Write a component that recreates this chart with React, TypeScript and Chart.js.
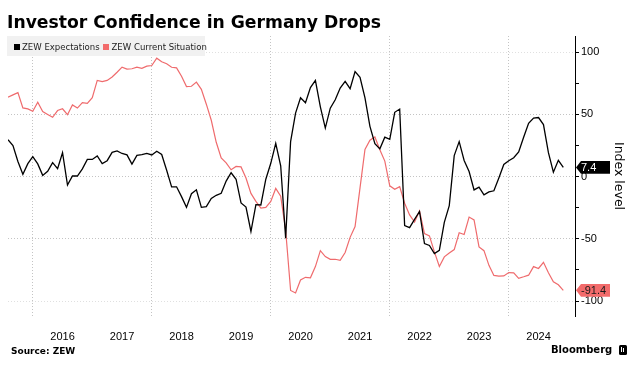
import React, { useEffect, useRef } from 'react';
import { Chart, registerables } from 'chart.js';

Chart.register(...registerables);

// Monthly observations, July 2015 .. November 2024 (plotted at month end)
const months: string[] = [];
for (let y = 2015; y <= 2024; y++) {
  for (let m = 1; m <= 12; m++) {
    if ((y === 2015 && m < 7) || (y === 2024 && m > 11)) continue;
    months.push(`${y}-${String(m).padStart(2, '0')}`);
  }
}

const zewExpectations = [
  29.7, 25.0, 12.1, 1.9, 10.4, 16.1,
  10.2, 1.0, 4.3, 11.2, 6.4, 19.2, -6.8, 0.5, 0.5, 6.2, 13.8, 13.8,
  16.6, 10.4, 12.8, 19.5, 20.6, 18.6, 17.5, 10.0, 17.0, 17.6, 18.7, 17.4,
  20.4, 17.8, 5.1, -8.2, -8.2, -16.1, -24.7, -13.7, -10.6, -24.7, -24.1, -17.5,
  -15.0, -13.4, -3.6, 3.1, -2.1, -21.1, -24.5, -44.1, -22.5, -22.8, -2.1, 10.7,
  26.7, 8.7, -49.5, 28.2, 51.0, 63.4, 59.3, 71.5, 77.4, 56.1, 39.0, 55.0,
  61.8, 71.2, 76.6, 70.7, 84.4, 79.8, 63.3, 40.4, 26.5, 22.3, 31.7, 29.9,
  51.7, 54.3, -39.3, -41.0, -34.3, -28.0, -53.8, -55.3, -61.9, -59.2, -36.7, -23.3,
  16.9, 28.1, 13.0, 4.1, -10.7, -8.5, -14.7, -12.3, -11.4, -1.1, 9.8, 12.8,
  15.2, 19.9, 31.7, 42.9, 47.1, 47.5, 41.8, 19.2, 3.6, 13.1, 7.4,
];

const zewCurrentSituation = [
  63.9, 65.7, 67.5, 55.2, 54.4, 52.5,
  59.7, 52.3, 50.0, 47.7, 53.1, 54.5, 49.8, 57.6, 55.1, 59.5, 58.8, 63.5,
  77.3, 76.4, 77.3, 80.1, 83.9, 88.0, 86.4, 86.7, 87.9, 87.0, 88.8, 89.3,
  95.2, 92.3, 90.7, 87.9, 87.4, 80.6, 72.4, 72.6, 76.0, 70.1, 58.2, 45.3,
  27.6, 15.0, 11.1, 5.5, 8.2, 7.8, -1.1, -13.5, -19.9, -25.3, -24.7, -19.9,
  -9.5, -15.7, -43.1, -91.5, -93.5, -83.1, -80.9, -81.3, -72.3, -59.5, -64.3, -66.5,
  -66.4, -67.2, -61.0, -48.8, -40.1, -9.1, 21.9, 29.3, 31.9, 21.6, 12.5, -7.4,
  -10.2, -8.1, -21.4, -30.8, -36.5, -27.6, -45.8, -47.6, -60.5, -72.2, -64.5, -61.4,
  -58.6, -45.1, -46.5, -32.5, -34.8, -56.5, -59.5, -71.3, -79.4, -79.9, -79.8, -77.1,
  -77.3, -81.7, -80.5, -79.2, -72.3, -73.8, -68.9, -77.3, -84.5, -86.9, -91.4,
];

const yearLabels = ['2016', '2017', '2018', '2019', '2020', '2021', '2022', '2023', '2024'];
const gridYears = [2016, 2018, 2020, 2022, 2024];
const yMajorTicks = [-100, -50, 0, 50, 100];
const yMinorTicks = [-75, -25, 25, 75];

const BASE_YEAR = 2015;
const monthPos = (label: string) => {
  const [y, m] = label.split('-').map(Number);
  return (y - BASE_YEAR) * 12 + m; // end of month
};
const yearStart = (y: number) => (y - BASE_YEAR) * 12;
const yearMid = (y: number) => (y - BASE_YEAR) * 12 + 6;

const X_MIN = 7;
const X_MAX = 121.36;
const Y_MIN = -112;
const Y_MAX = 113;

const RED = '#ef6b6d';
const RED_TAG = '#f26b6b';
const GRID = '#c4c4c4';
const GRID_FAINT = '#e0e0e0';
const FONT = "'Liberation Sans', Arial, sans-serif";

const tagPlugin = {
  id: 'lastValueTags',
  afterDraw(chart: any) {
    const ctx = chart.ctx as CanvasRenderingContext2D;
    const ys = chart.scales.y;
    const x0 = chart.chartArea.right;
    const items: [number[], string, string][] = [
      [zewExpectations, '#000000', '#ffffff'],
      [zewCurrentSituation, RED_TAG, '#1a1a1a'],
    ];
    ctx.save();
    items.forEach(([arr, bg, fg]) => {
      const v = arr[arr.length - 1];
      const cy = ys.getPixelForValue(v);
      const h = 6.3;
      ctx.beginPath();
      ctx.moveTo(x0 + 1, cy);
      ctx.lineTo(x0 + 6, cy - h);
      ctx.lineTo(x0 + 35, cy - h);
      ctx.lineTo(x0 + 35, cy + h);
      ctx.lineTo(x0 + 6, cy + h);
      ctx.closePath();
      ctx.fillStyle = bg;
      ctx.fill();
      ctx.fillStyle = fg;
      ctx.font = `11px ${FONT}`;
      ctx.textBaseline = 'middle';
      ctx.textAlign = 'left';
      ctx.fillText(v.toFixed(1), x0 + 6, cy + 0.5);
    });
    ctx.restore();
  },
};

export default function App() {
  const canvasRef = useRef<HTMLCanvasElement | null>(null);

  useEffect(() => {
    if (!canvasRef.current) return;
    const labelMap: Record<number, string> = {};
    yearLabels.forEach((l) => (labelMap[yearMid(Number(l))] = l));

    const chart = new Chart(canvasRef.current, {
      type: 'line',
      data: {
        datasets: [
          {
            label: 'ZEW Expectations',
            data: months.map((m, i) => ({ x: monthPos(m), y: zewExpectations[i] })),
            borderColor: '#000000',
            borderWidth: 1.3,
            pointRadius: 0,
            tension: 0,
            fill: false,
            xAxisID: 'x',
            yAxisID: 'y',
          },
          {
            label: 'ZEW Current Situation',
            data: months.map((m, i) => ({ x: monthPos(m), y: zewCurrentSituation[i] })),
            borderColor: RED,
            borderWidth: 1.2,
            pointRadius: 0,
            tension: 0,
            fill: false,
            xAxisID: 'x',
            yAxisID: 'y',
          },
        ],
      },
      options: {
        animation: false,
        responsive: false,
        maintainAspectRatio: false,
        layout: { padding: { left: 8, top: 36, right: 0, bottom: 0 } },
        plugins: { legend: { display: false }, tooltip: { enabled: false }, title: { display: false } },
        scales: {
          // grid-only axis: dotted lines every two years
          x: {
            type: 'linear',
            position: 'bottom',
            min: X_MIN,
            max: X_MAX,
            afterBuildTicks: (s: any) => {
              s.ticks = gridYears.map((y) => ({ value: yearStart(y) }));
            },
            afterFit: (s: any) => {
              s.height = 0;
            },
            ticks: { display: false },
            grid: { drawTicks: false, color: GRID, lineWidth: 1 },
            border: { display: false, dash: [1, 2] },
          },
          // label-only axis: years centred on mid-year
          xYears: {
            type: 'linear',
            position: 'bottom',
            min: X_MIN,
            max: X_MAX,
            afterBuildTicks: (s: any) => {
              s.ticks = yearLabels.map((l) => ({ value: yearMid(Number(l)) }));
            },
            afterFit: (s: any) => {
              s.height = 55;
            },
            ticks: {
              autoSkip: false,
              maxRotation: 0,
              padding: 14,
              color: '#000',
              font: { family: FONT, size: 11 },
              callback: (v: any) => labelMap[Number(v)] ?? '',
            },
            grid: { display: false, drawTicks: false },
            border: { display: false },
          },
          y: {
            type: 'linear',
            position: 'right',
            min: Y_MIN,
            max: Y_MAX,
            weight: 1,
            afterBuildTicks: (s: any) => {
              s.ticks = yMajorTicks.map((v) => ({ value: v }));
            },
            afterFit: (s: any) => {
              s.width = 61;
            },
            ticks: {
              autoSkip: false,
              padding: 2,
              color: '#000',
              font: { family: FONT, size: 11 },
              callback: (v: any) => String(v),
            },
            grid: {
              color: (c: any) => (c && c.tick && Math.abs(c.tick.value) === 100 ? GRID_FAINT : GRID),
              tickColor: '#000',
              tickLength: 4,
              tickWidth: 1,
              lineWidth: 1,
            },
            border: { display: true, color: '#000', width: 1, dash: [1, 2] },
            title: {
              display: true,
              text: 'Index level',
              color: '#000',
              font: { family: "'DejaVu Sans', sans-serif", size: 12.5 },
              padding: { top: 10.5, bottom: 0 },
            },
          },
          // minor tick marks only
          yMinor: {
            type: 'linear',
            position: 'right',
            min: Y_MIN,
            max: Y_MAX,
            weight: 0,
            afterBuildTicks: (s: any) => {
              s.ticks = yMinorTicks.map((v) => ({ value: v }));
            },
            afterFit: (s: any) => {
              s.width = 0;
            },
            ticks: { display: false },
            grid: { drawOnChartArea: false, drawTicks: true, tickColor: '#000', tickLength: 4, tickWidth: 1 },
            border: { display: false },
          },
        },
      },
      plugins: [tagPlugin],
    } as any);
    return () => chart.destroy();
  }, []);

  const abs = (o: React.CSSProperties): React.CSSProperties => ({ position: 'absolute', whiteSpace: 'nowrap', ...o });
  const legendFont = "'Liberation Sans Narrow', 'DejaVu Sans Condensed', 'Liberation Sans', sans-serif";

  return (
    <div style={{ position: 'fixed', left: 0, top: 0, width: 636, height: 371, background: '#fff', overflow: 'hidden' }}>
      <canvas ref={canvasRef} width={636} height={371} style={{ position: 'absolute', left: 0, top: 0, width: 636, height: 371 }} />
      <div
        style={abs({
          left: 7,
          top: 11.8,
          fontFamily: "'DejaVu Sans', sans-serif",
          fontWeight: 'bold',
          fontSize: 17.2,
          lineHeight: '20px',
          color: '#000',
        })}
      >
        Investor Confidence in Germany Drops
      </div>
      <div style={abs({ left: 7, top: 36, width: 198, height: 20, background: '#f1f1f1' })} />
      <div style={abs({ left: 14, top: 44, width: 6, height: 6, background: '#000' })} />
      <div style={abs({ left: 22, top: 41.4, fontFamily: legendFont, fontSize: 9.5, lineHeight: '12px', color: '#222' })}>
        ZEW Expectations
      </div>
      <div style={abs({ left: 103, top: 44, width: 6, height: 6, background: RED_TAG })} />
      <div style={abs({ left: 111.5, top: 41.4, fontFamily: legendFont, fontSize: 9.5, lineHeight: '12px', color: '#222' })}>
        ZEW Current Situation
      </div>
      <div
        style={abs({
          left: 11,
          top: 345.2,
          fontFamily: "'DejaVu Sans', sans-serif",
          fontWeight: 'bold',
          fontSize: 9,
          lineHeight: '12px',
          color: '#000',
        })}
      >
        Source: ZEW
      </div>
      <div
        style={abs({
          left: 551,
          top: 343.9,
          fontFamily: "'DejaVu Sans', sans-serif",
          fontWeight: 'bold',
          fontSize: 10,
          lineHeight: '12px',
          color: '#000',
        })}
      >
        Bloomberg
      </div>
      <div style={abs({ left: 619, top: 345, width: 8, height: 10, background: '#000', borderRadius: 1.5 })}>
        <div style={abs({ left: 2, top: 2, width: 1, height: 5, background: '#fff' })} />
        <div style={abs({ left: 4, top: 3, width: 1, height: 4, background: '#fff' })} />
      </div>
    </div>
  );
}
